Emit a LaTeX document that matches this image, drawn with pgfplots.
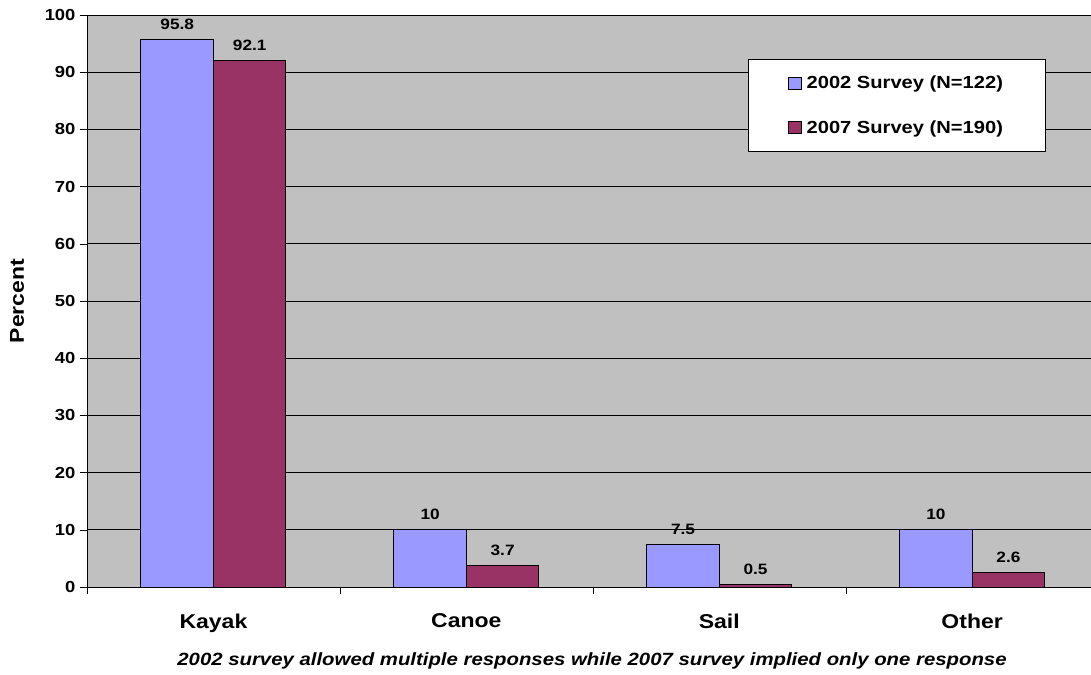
\documentclass[border=0pt]{standalone}
\usepackage{fontspec}
\setmainfont[FakeStretch=1.15]{Liberation Sans}
\usepackage{pgfplots}
\pgfplotsset{compat=1.18}
\definecolor{bgray}{HTML}{C0C0C0}
\definecolor{sblue}{HTML}{9999FF}
\definecolor{sred}{HTML}{993366}
\begin{document}
\begin{tikzpicture}[x=1pt,y=1pt]
\useasboundingbox (0,0) rectangle (1091,674);
\begin{axis}[
  at={(87pt,87pt)}, anchor=south west,
  scale only axis, width=1004pt, height=572pt,
  ybar=0pt, bar width=72.5pt,
  xmin=-0.5, xmax=3.47, ymin=0, ymax=100,
  clip=false,
  axis background/.style={fill=bgray},
  axis x line*=bottom, axis y line*=left,
  axis line style={black, -},
  xtick={0,1,2,3},
  xticklabels={Kayak,Canoe,Sail,Other},
  major x tick style={draw=none},
  minor xtick={-0.5,0.5,1.5,2.5},
  minor x tick style={black},
  minor tick length=7pt,
  ytick={0,10,...,100},
  major tick length=7pt,
  tick align=outside,
  ytick style={black},
  ymajorgrids, grid style={black, line width=0.6pt},
  /pgf/number format/assume math mode=true,
  yticklabel style={font=\fontsize{16}{18}\selectfont\bfseries, xshift=-1pt},
  xticklabel style={font=\fontsize{20}{24}\selectfont\bfseries, yshift=-16pt},
  ylabel={Percent},
  ylabel style={at={(rel axis cs:-0.0697,0.5)}, anchor=center, font=\fontsize{20}{24}\selectfont\bfseries},
  xlabel={2002 survey allowed multiple responses while 2007 survey implied only one response},
  xlabel style={at={(rel axis cs:0.503,0)}, anchor=center, yshift=-74pt, font=\fontsize{17.7}{20}\selectfont\bfseries\itshape},
  nodes near coords,
  every node near coord/.append style={font=\fontsize{15}{17}\selectfont\bfseries, anchor=south, yshift=6pt, black},
  point meta=explicit symbolic,
  legend style={at={(0.658,0.923)}, anchor=north west, fill=white, draw=black,
    font=\fontsize{17.5}{20}\selectfont\bfseries, inner xsep=40pt, inner ysep=15pt,
    row sep=26pt, /tikz/every odd column/.append style={column sep=3pt}},
  legend cell align=left,
  legend image code/.code={\draw[#1,draw=black,line width=0.8pt] (0pt,-6pt) rectangle (13pt,6pt);},
]
\addplot[fill=sblue, draw=black, line width=1pt] coordinates {(0,95.8) [95.8] (1,10) [10] (2,7.5) [7.5] (3,10) [10]};
\addplot[fill=sred, draw=black, line width=1pt] coordinates {(0,92.1) [92.1] (1,3.7) [3.7] (2,0.5) [0.5] (3,2.6) [2.6]};
\legend{2002 Survey (N=122), 2007 Survey (N=190)}
\end{axis}
\end{tikzpicture}
\end{document}
